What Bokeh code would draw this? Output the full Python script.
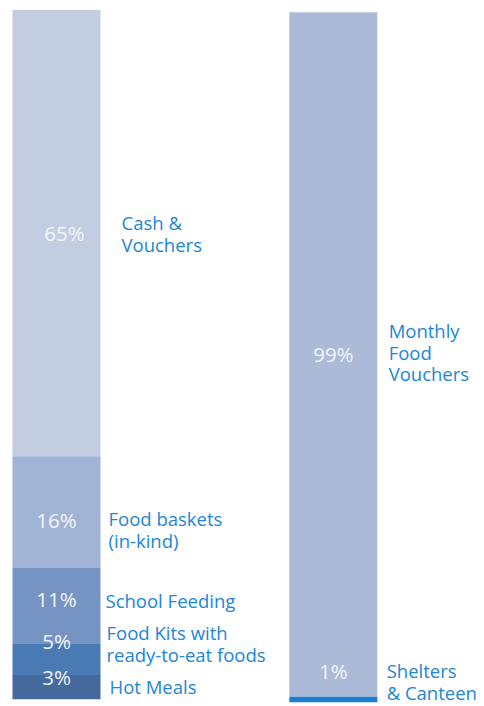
import numpy as np
from bokeh.plotting import figure
from bokeh.models import ColumnDataSource, Range1d
from bokeh.core.properties import value
from bokeh.embed import file_html
from bokeh.resources import INLINE

# ---- data (top segment first) ----
left_categories = ["Cash &\nVouchers", "Food baskets\n(in-kind)", "School Feeding",
                   "Food Kits with\nready-to-eat foods", "Hot Meals"]
left_values = [64.7, 16.2, 11.0, 4.5, 3.5]
left_labels = ["65%", "16%", "11%", "5%", "3%"]

right_categories = ["Monthly\nFood\nVouchers", "Shelters\n& Canteen"]
right_values = [99.2, 0.8]
right_labels = ["99%", "1%"]

# ---- styles / layout ----
left_colors = ["#C2CDE1", "#A1B3D4", "#7594C4", "#4A7AB4", "#44699C"]
right_colors = ["#ABBAD7", "#1B7DCF"]
label_color = "#2186D4"
pct_color = "#F3F5F9"
FONT = "Open Sans"
LAB_SIZE = "18.5px"
PCT_SIZE = "20.5px"
LINE_H = 0.865

W, H = 484, 706
PX = 6.9  # pixels per percent
left_x, right_x = 56, 332.85
bar_w = 88
left_pct_dx = [8, 0, 0, 0, 0]
left_pct_dy = [0, 7.5, -7.5, -18.5, -10.5]
left_lab_dy = [0.4, 17, -5.3, -16, -0.9]
left_lab_dx = [21, 8, 5, 6, 9]
right_pct_dx = [0, 0]
right_pct_dy = [-0.5, -28]
right_lab_dy = [-2.4, -18]
right_lab_dx = [11.3, 9.3]
left_base, right_base = 698.7, 701.7  # screen y of bar bottoms


def stack(vals):
    vals = np.array(vals, dtype=float)
    tops = np.cumsum(vals[::-1])[::-1]
    bottoms = tops - vals
    return bottoms, tops


p = figure(width=W, height=H, output_backend="svg", toolbar_location=None,
           x_range=Range1d(0, W),
           y_range=Range1d(-(H - left_base) / PX, left_base / PX),
           min_border=0, outline_line_color=None, background_fill_color="white",
           border_fill_color="white")
p.extra_y_ranges = {"right": Range1d(-(H - right_base) / PX, right_base / PX)}
p.axis.visible = False
p.grid.visible = False

lb, lt = stack(left_values)
lsrc = ColumnDataSource(dict(
    x=[left_x] * len(left_values), bottom=lb, top=lt, color=left_colors,
    mid=(lb + lt) / 2, pct=left_labels, cat=left_categories,
    pdx=left_pct_dx, pdy=left_pct_dy, ldy=left_lab_dy,
    lx=[left_x + bar_w / 2 + d for d in left_lab_dx]))
p.vbar(x="x", bottom="bottom", top="top", width=bar_w, fill_color="color",
       line_color=None, source=lsrc)
p.text(x="x", y="mid", text="pct", x_offset="pdx", y_offset="pdy", source=lsrc,
       text_font=value(FONT), text_font_size=PCT_SIZE, text_color=pct_color,
       text_align="center", text_baseline="middle")
p.text(x="lx", y="mid", text="cat", y_offset="ldy", source=lsrc,
       text_font=value(FONT), text_font_size=LAB_SIZE, text_color=label_color,
       text_align="left", text_baseline="middle", text_line_height=LINE_H)

rb, rt = stack(right_values)
rsrc = ColumnDataSource(dict(
    x=[right_x] * len(right_values), bottom=rb, top=rt, color=right_colors,
    mid=(rb + rt) / 2, pct=right_labels, cat=right_categories,
    pdx=right_pct_dx, pdy=right_pct_dy, ldy=right_lab_dy,
    lx=[right_x + bar_w / 2 + d for d in right_lab_dx]))
p.vbar(x="x", bottom="bottom", top="top", width=bar_w, fill_color="color",
       line_color=None, source=rsrc, y_range_name="right")
p.text(x="x", y="mid", text="pct", x_offset="pdx", y_offset="pdy", source=rsrc,
       y_range_name="right",
       text_font=value(FONT), text_font_size=PCT_SIZE, text_color=pct_color,
       text_align="center", text_baseline="middle")
p.text(x="lx", y="mid", text="cat", y_offset="ldy", source=rsrc, y_range_name="right",
       text_font=value(FONT), text_font_size=LAB_SIZE, text_color=label_color,
       text_align="left", text_baseline="middle", text_line_height=LINE_H)

open("out.html", "w").write(file_html(p, INLINE))
